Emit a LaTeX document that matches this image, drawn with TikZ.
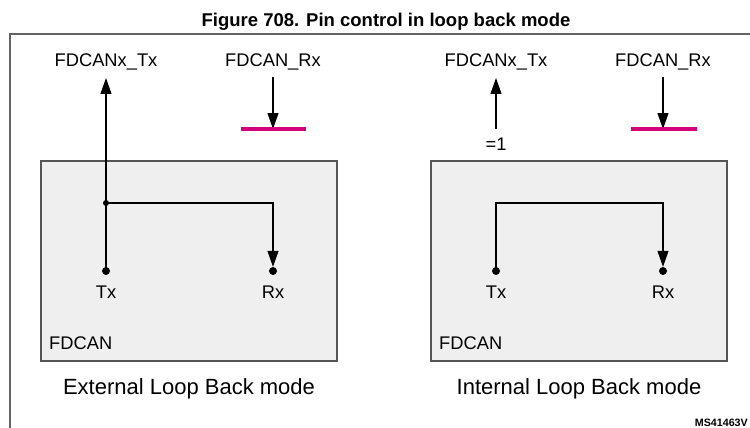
\documentclass[tikz,border=0pt]{standalone}
\usepackage{fontspec}
\setmainfont{Liberation Sans}
\usetikzlibrary{arrows.meta}
\definecolor{framegray}{RGB}{100,100,100}
\definecolor{boxgray}{RGB}{85,85,85}
\definecolor{boxfill}{RGB}{239,239,239}
\definecolor{barpink}{RGB}{212,0,122}
\tikzset{
  lbl/.style={font=\fontsize{18.3}{20}\selectfont, anchor=base, inner sep=0pt},
  captext/.style={font=\fontsize{22}{24}\selectfont, anchor=base, inner sep=0pt},
  chip/.style={draw=boxgray, fill=boxfill, line width=1.3pt},
  pin/.style={circle, fill=black, inner sep=0pt, minimum size=8pt},
  jdot/.style={circle, fill=black, inner sep=0pt, minimum size=6pt},
  arr/.style={line width=1.2pt, -{Triangle[length=16pt,width=11pt]}},
  bar/.style={draw=barpink, line width=3.5pt},
}
\begin{document}
\begin{tikzpicture}[x=1pt,y=-1pt]
\useasboundingbox (0,0) rectangle (750,428);
% title and frame
\node[font=\bfseries\fontsize{18.5}{20}\selectfont, anchor=base, inner sep=0pt] (title) at (386,26.5) {Figure 708. Pin control in loop back mode};
\draw[framegray, line width=1.2pt] (750,34) -- (10,34) -- (10,428);

% ---------- External loop back ----------
\draw[chip] (41,161) rectangle (337,361);
\node[lbl] (txnameL) at (106,66.5) {FDCANx\_Tx};
\node[lbl] (rxnameL) at (273,66.5) {FDCAN\_Rx};
\coordinate (txtopL) at (106,78);
\coordinate (rxtopL) at (273,77);
\coordinate (barLa) at (241,129);
\coordinate (barLb) at (306,129);
\coordinate (rxbarL) at (273,129);
\node[pin] (txL) at (106,271) {};
\node[pin] (rxL) at (273,271) {};
\node[jdot] (jL) at (106,203) {};
\coordinate (cornerL) at (273,203);
\draw[arr] (txL.center) -- (txtopL);
\draw[arr] (jL.center) -- (cornerL) -- (rxL.north);
\draw[arr] (rxtopL) -- (rxbarL);
\draw[bar] (barLa) -- (barLb);
\node[lbl] (txlabL) at (106,298) {Tx};
\node[lbl] (rxlabL) at (273,298) {Rx};
\node[lbl, anchor=base west] (chipL) at (49,349) {FDCAN};
\node[captext] (capL) at (189,394.5) {External Loop Back mode};

% ---------- Internal loop back ----------
\draw[chip] (431,161) rectangle (727,361);
\node[lbl] (txnameR) at (496,66.5) {FDCANx\_Tx};
\node[lbl] (rxnameR) at (663,66.5) {FDCAN\_Rx};
\coordinate (txtopR) at (496,78);
\coordinate (txbotR) at (496,129);
\coordinate (rxtopR) at (663,77);
\coordinate (barRa) at (631,129);
\coordinate (barRb) at (697,129);
\coordinate (rxbarR) at (663,129);
\node[lbl] (onelab) at (496,150) {=1};
\node[pin] (txR) at (496,271) {};
\node[pin] (rxR) at (663,271) {};
\coordinate (cornerR1) at (496,203);
\coordinate (cornerR2) at (663,203);
\draw[arr] (txbotR) -- (txtopR);
\draw[arr] (txR.center) -- (cornerR1) -- (cornerR2) -- (rxR.north);
\draw[arr] (rxtopR) -- (rxbarR);
\draw[bar] (barRa) -- (barRb);
\node[lbl] (txlabR) at (496,298) {Tx};
\node[lbl] (rxlabR) at (663,298) {Rx};
\node[lbl, anchor=base west] (chipR) at (439,349) {FDCAN};
\node[captext] (capR) at (579,394.5) {Internal Loop Back mode};

\node[font=\bfseries\fontsize{10.7}{12}\selectfont, anchor=base east, inner sep=0pt] (msid) at (748,426) {MS41463V};
\end{tikzpicture}
\end{document}
